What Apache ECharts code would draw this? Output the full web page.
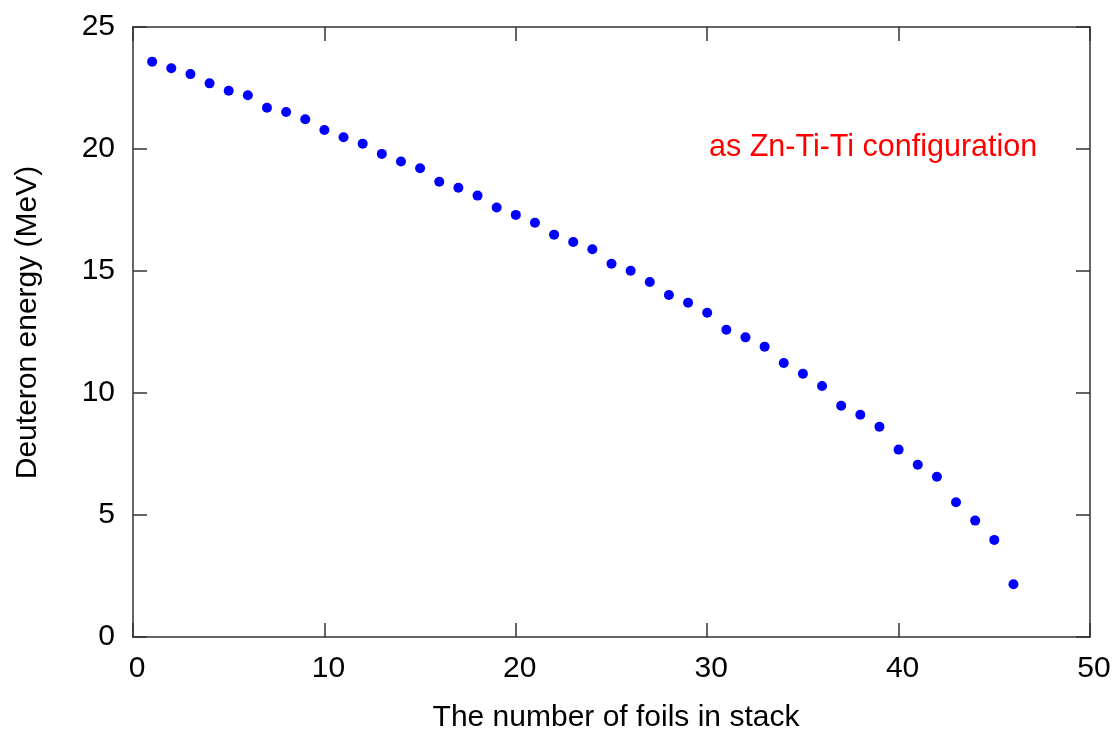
<!DOCTYPE html>
<html>
<head>
<meta charset="utf-8">
<script src="https://cdn.jsdelivr.net/npm/echarts@6/dist/echarts.min.js"></script>
<style>
  html, body { margin: 0; padding: 0; background: #fff; }
  #chart { width: 1120px; height: 740px; }
</style>
</head>
<body>
<div id="chart"></div>
<script>
// Foil index in the stack (1..46)
const foilNumbers = [
  1, 2, 3, 4, 5, 6, 7, 8, 9, 10,
  11, 12, 13, 14, 15, 16, 17, 18, 19, 20,
  21, 22, 23, 24, 25, 26, 27, 28, 29, 30,
  31, 32, 33, 34, 35, 36, 37, 38, 39, 40,
  41, 42, 43, 44, 45, 46
];
// Mean deuteron energy in each foil (MeV)
const deuteronEnergy = [
  23.58, 23.31, 23.07, 22.69, 22.39, 22.20, 21.69, 21.52, 21.22, 20.78,
  20.48, 20.22, 19.80, 19.49, 19.21, 18.66, 18.41, 18.09, 17.60, 17.30,
  16.98, 16.49, 16.19, 15.89, 15.30, 15.01, 14.55, 14.02, 13.70, 13.29,
  12.59, 12.28, 11.90, 11.23, 10.79, 10.29, 9.48, 9.11, 8.62, 7.68,
  7.06, 6.57, 5.52, 4.77, 3.98, 2.16
];
const xTicks = [0, 10, 20, 30, 40, 50];
const yTicks = [0, 5, 10, 15, 20, 25];
const annotation = 'as Zn-Ti-Ti configuration';
const xTitle = 'The number of foils in stack';
const yTitle = 'Deuteron energy (MeV)';

const FONT = '"Liberation Sans", Arial, sans-serif';
const FONT_SIZE = 30;
const lineStyle = { color: '#333', width: 1.5 };

const points = foilNumbers.map((n, i) => [n, deuteronEnergy[i]]);

function makeAxis(ticks, extra) {
  return Object.assign({
    type: 'value',
    min: ticks[0],
    max: ticks[ticks.length - 1],
    interval: ticks[1] - ticks[0],
    axisLine: { show: true, onZero: false, lineStyle: lineStyle },
    axisTick: { show: true, inside: true, length: 14, lineStyle: lineStyle },
    splitLine: { show: false },
    axisLabel: { show: false }
  }, extra || {});
}

const chart = echarts.init(document.getElementById('chart'));
chart.setOption({
  backgroundColor: '#fff',
  animation: false,
  grid: { left: 133, right: 30, top: 27, bottom: 103, containLabel: false },
  xAxis: [
    makeAxis(xTicks, {
      position: 'bottom',
      name: xTitle,
      nameLocation: 'middle',
      nameGap: 66,
      nameTextStyle: {
        color: '#000', fontFamily: FONT, fontSize: FONT_SIZE,
        padding: [0, 0, 0, 9]
      },
      axisLabel: {
        show: true, color: '#000', fontFamily: FONT, fontSize: FONT_SIZE,
        margin: 17, padding: [0, 0, 0, 8]
      }
    }),
    makeAxis(xTicks, { position: 'top' })
  ],
  yAxis: [
    makeAxis(yTicks, {
      position: 'left',
      name: yTitle,
      nameLocation: 'middle',
      nameGap: 90,
      nameTextStyle: {
        color: '#000', fontFamily: FONT, fontSize: FONT_SIZE,
        padding: [0, 0, 0, 19]
      },
      axisLabel: {
        show: true, color: '#000', fontFamily: FONT, fontSize: FONT_SIZE,
        margin: 18, padding: [0, 0, 4, 0]
      }
    }),
    makeAxis(yTicks, { position: 'right' })
  ],
  graphic: [{
    type: 'text',
    x: 709,
    y: 148,
    style: {
      text: annotation,
      fill: '#ff0000',
      fontFamily: FONT,
      fontSize: 30.5,
      verticalAlign: 'middle',
      align: 'left'
    }
  }],
  series: [{
    type: 'scatter',
    xAxisIndex: 0,
    yAxisIndex: 0,
    data: points,
    symbol: 'circle',
    symbolSize: 10,
    itemStyle: { color: '#0000ff', opacity: 1 }
  }]
});
</script>
</body>
</html>
